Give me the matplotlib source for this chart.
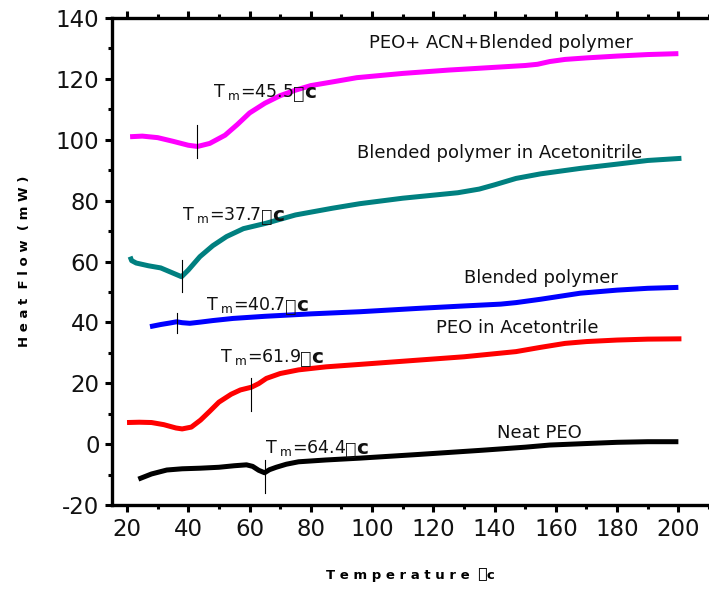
import numpy as np
import matplotlib
matplotlib.use("Agg")
import matplotlib.pyplot as plt
from matplotlib.ticker import MultipleLocator

plt.rcParams['font.family'] = ['DejaVu Sans', 'DejaVu Sans Mono']
plt.rcParams['mathtext.fontset'] = 'dejavusans'
plt.rcParams['axes.unicode_minus'] = False

BOX = "\u2395"

# curves
mag_x = [21, 25, 30, 35, 40, 43, 47, 52, 56, 60, 65, 70, 75, 80, 87, 95, 110, 125, 140, 150, 154, 158, 163, 170, 180, 190, 200]
mag_y = [101, 101.2, 100.7, 99.5, 98.2, 97.8, 98.8, 101.5, 105, 108.8, 112, 114.5, 116.3, 117.8, 119, 120.4, 121.8, 122.9, 123.8, 124.4, 124.8, 125.7, 126.4, 126.9, 127.5, 128, 128.3]

teal_x = [21, 21.5, 23, 27, 31, 35, 37.8, 40, 43.8, 48, 52.5, 58, 65.5, 75, 87, 96, 110, 128, 135, 140, 147, 155, 168, 180, 190, 201]
teal_y = [61.6, 60.3, 59.5, 58.6, 57.9, 56.2, 55, 57.2, 61.6, 65.2, 68.2, 70.8, 72.6, 75.3, 77.5, 79, 80.8, 82.6, 83.8, 85.2, 87.3, 88.8, 90.6, 92, 93.2, 93.9]

blue_x = [27.5, 31, 34, 36.2, 38, 40.5, 44, 48, 54.6, 65, 80, 96, 115, 130, 136, 142, 147, 155, 168, 180, 190, 200]
blue_y = [38.6, 39.3, 39.8, 40.2, 39.9, 39.7, 40.1, 40.6, 41.3, 42, 42.8, 43.5, 44.6, 45.4, 45.7, 46.0, 46.5, 47.6, 49.6, 50.6, 51.2, 51.5]

red_x = [20, 24, 28, 32, 36, 38, 41, 44, 47, 50, 54, 57, 60.6, 63, 65.5, 70, 76, 85, 96, 115, 130, 147, 155, 163, 170, 180, 190, 201]
red_y = [7.1, 7.2, 7.1, 6.4, 5.3, 5.0, 5.6, 7.9, 10.8, 13.8, 16.4, 17.8, 18.7, 19.9, 21.6, 23.2, 24.4, 25.4, 26.2, 27.6, 28.7, 30.4, 31.8, 33.1, 33.7, 34.2, 34.5, 34.6]

blk_x = [23.7, 28, 33, 38, 44, 50, 55, 59, 61, 63, 64.9, 66.5, 68.7, 72, 76, 85, 96, 115, 136, 150, 158, 170, 180, 190, 200]
blk_y = [-11.5, -9.8, -8.5, -8.1, -7.9, -7.6, -7.1, -6.8, -7.3, -8.6, -9.4, -8.4, -7.6, -6.6, -5.8, -5.2, -4.6, -3.4, -2.0, -1.0, -0.3, 0.2, 0.6, 0.8, 0.8]

series = [
    (mag_x, mag_y, '#ff00ff'),
    (teal_x, teal_y, '#008080'),
    (blue_x, blue_y, '#0000ff'),
    (red_x, red_y, '#ff0000'),
    (blk_x, blk_y, '#000000'),
]

# Tm marker lines: x, y bottom, y top
tm_marks = [(43, 93.9, 104.8), (37.8, 50, 60.5), (36.2, 36.6, 43),
            (60.4, 11, 21.6), (64.9, -16.1, -5.2)]

# labels: text, x, y
curve_labels = [
    ("PEO+ ACN+Blended polymer", 99.1, 130.0),
    ("Blended polymer in Acetonitrile", 95, 93.9),
    ("Blended polymer", 130, 52.8),
    ("PEO in Acetontrile", 120.8, 36.4),
    ("Neat PEO", 140.9, 2.0),
]
tm_labels = [("45.5", 48, 114.1), ("37.7", 38.1, 73.6), ("40.7", 45.9, 44.1),
             ("61.9", 50.3, 27.1), ("64.4", 64.9, -3.0)]

fig = plt.figure(figsize=(7.09, 5.89), dpi=100)
ax = fig.add_axes([0.158, 0.1426, 0.842, 0.8268])

for xs, ys, c in series:
    ax.plot(xs, ys, color=c, lw=3.6, solid_capstyle='butt', solid_joinstyle='round')

for x, y0, y1 in tm_marks:
    ax.plot([x, x], [y0, y1], color='black', lw=0.8)

for txt, x, y in curve_labels:
    ax.text(x, y, txt, fontsize=13, color='#111111', ha='left', va='baseline')

for v, x, y in tm_labels:
    t = ax.text(x, y, r'T$_{\mathregular{\ m}}$=' + v, fontsize=12.5,
                color='#111111', ha='left', va='baseline')
    b = ax.annotate(BOX, xy=(1, 0), xycoords=t, fontsize=11.5, color='#111111',
                    family=['DejaVu Sans Mono'], ha='left', va='bottom',
                    xytext=(0.3, 0), textcoords='offset points')
    ax.annotate('c', xy=(1, 0), xycoords=b, fontsize=14.5, fontweight='bold',
                color='#111111', ha='left', va='bottom',
                xytext=(0.3, 0), textcoords='offset points')

ax.set_xlim(15.1, 210)
ax.set_ylim(-20, 140)
ax.xaxis.set_major_locator(MultipleLocator(20))
ax.xaxis.set_minor_locator(MultipleLocator(10))
ax.yaxis.set_major_locator(MultipleLocator(20))
ax.yaxis.set_minor_locator(MultipleLocator(10))
ax.tick_params(which='major', direction='out', length=5, width=2.2, labelsize=16.5,
               labelcolor='#111111', pad=4)
ax.tick_params(which='minor', direction='out', length=3, width=2.2)
ax.tick_params(axis='x', which='both', top=True)

for s in ['left', 'bottom', 'top']:
    ax.spines[s].set_linewidth(2.4)
ax.spines['right'].set_visible(False)

ax.set_ylabel("H e a t  F l o w  ( m W )", fontsize=9.5, fontweight='bold', labelpad=18)
ax.set_xlabel("T e m p e r a t u r e  " + BOX + "c", fontsize=9.5, fontweight='bold', labelpad=20)

fig.savefig("out.png", dpi=100)
